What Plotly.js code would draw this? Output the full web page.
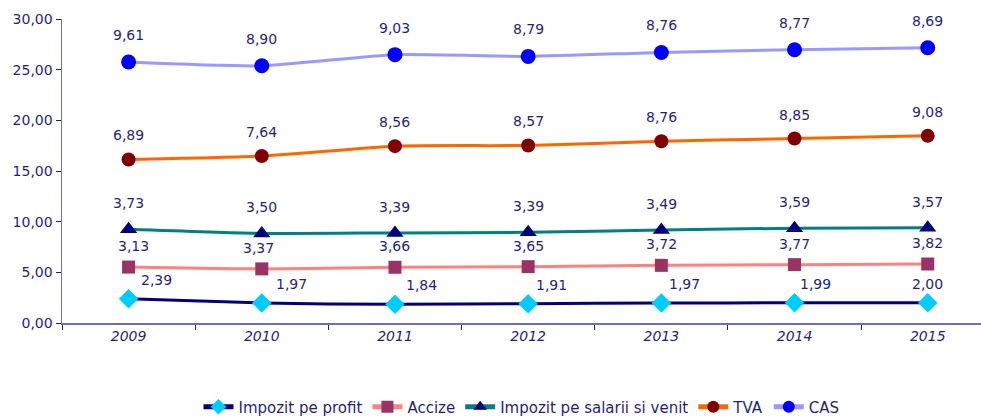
<!DOCTYPE html>
<html>
<head>
<meta charset="utf-8">
<script src="https://cdn.plot.ly/plotly-3.0.1.min.js"></script>
<style>html,body{margin:0;padding:0;background:#fff;}#chart{width:981px;height:420px;}</style>
</head>
<body>
<div id="chart"></div>
<script>
const years = ["2009","2010","2011","2012","2013","2014","2015"];
const impozitProfit = [2.39,1.97,1.84,1.91,1.97,1.99,2.00];
const accize = [3.13,3.37,3.66,3.65,3.72,3.77,3.82];
const impozitSalarii = [3.73,3.50,3.39,3.39,3.49,3.59,3.57];
const tva = [6.89,7.64,8.56,8.57,8.76,8.85,9.08];
const cas = [9.61,8.90,9.03,8.79,8.76,8.77,8.69];
const yTicks = [0,5,10,15,20,25,30];

const series = [
  {name:"Impozit pe profit", vals:impozitProfit, line:"#000080", mk:"#00CCFF", sym:"diamond", size:15, dy:19, dx:[28,30,27,23,23,21,0]},
  {name:"Accize", vals:accize, line:"#FF8080", mk:"#993366", sym:"square", size:13, dy:21, dx:[5,-3,0,0,0,0,0]},
  {name:"Impozit pe salarii si venit", vals:impozitSalarii, line:"#008080", mk:"#000080", sym:"triangle-up", size:15, dy:26, dx:[0,0,0,0,0,0,0]},
  {name:"TVA", vals:tva, line:"#FF6600", mk:"#800000", sym:"circle", size:14, dy:24, dx:[0,0,0,0,0,0,0]},
  {name:"CAS", vals:cas, line:"#9999FF", mk:"#0000FF", sym:"circle", size:15, dy:27, dx:[0,0,0,0,0,0,0]}
];

const fmt = v => v.toFixed(2).replace(".", ",");
const numFont = "DejaVu Sans, Liberation Sans, Arial, sans-serif";
const txtColor = "#1F1F7F";

let cum = years.map(() => 0);
const traces = [];
const annotations = [];
series.forEach(s => {
  cum = cum.map((c, i) => c + s.vals[i]);
  const ys = cum.slice();
  traces.push({
    x: years, y: ys, name: s.name, type: "scatter", mode: "lines+markers",
    line: {color: s.line, width: 3, shape: "spline", smoothing: 0.6},
    marker: {symbol: s.sym, color: s.mk, size: s.size, line: {width: 0}},
    hoverinfo: "skip"
  });
  years.forEach((yr, i) => {
    annotations.push({
      x: i, y: ys[i], xref: "x", yref: "y", text: fmt(s.vals[i]), showarrow: false,
      xanchor: "center", yanchor: "middle", xshift: s.dx[i], yshift: s.dy,
      font: {family: numFont, size: 14, color: txtColor}
    });
  });
});

const layout = {
  width: 981, height: 420,
  margin: {l: 62, r: 0, t: 19, b: 97, autoexpand: false},
  paper_bgcolor: "#fff", plot_bgcolor: "#fff",
  showlegend: true,
  legend: {orientation: "h", x: 0.5, xanchor: "center", y: -0.222, yanchor: "top",
    font: {family: numFont, size: 15, color: txtColor}, itemsizing: "constant",
    itemclick: false, tracegroupgap: 0},
  xaxis: {
    type: "category", range: [-0.5, 6.40], showgrid: false, zeroline: false,
    showline: true, linecolor: "#7070B0", linewidth: 1.5,
    ticks: "outside", tickson: "boundaries", ticklen: 5, tickcolor: "#1F1F7F", tickwidth: 1,
    tickfont: {family: numFont, size: 14, color: txtColor, style: "italic"},
    fixedrange: true
  },
  yaxis: {
    range: [0, 30], tickvals: yTicks, ticktext: yTicks.map(fmt),
    showgrid: false, zeroline: false, showline: true, linecolor: "#7070B0", linewidth: 1.5,
    ticks: "outside", ticklen: 5, tickcolor: "#1F1F7F", tickwidth: 1,
    tickfont: {family: numFont, size: 14, color: txtColor},
    fixedrange: true
  },
  annotations: annotations
};

Plotly.newPlot("chart", traces, layout, {displayModeBar: false, staticPlot: true});
</script>
</body>
</html>
